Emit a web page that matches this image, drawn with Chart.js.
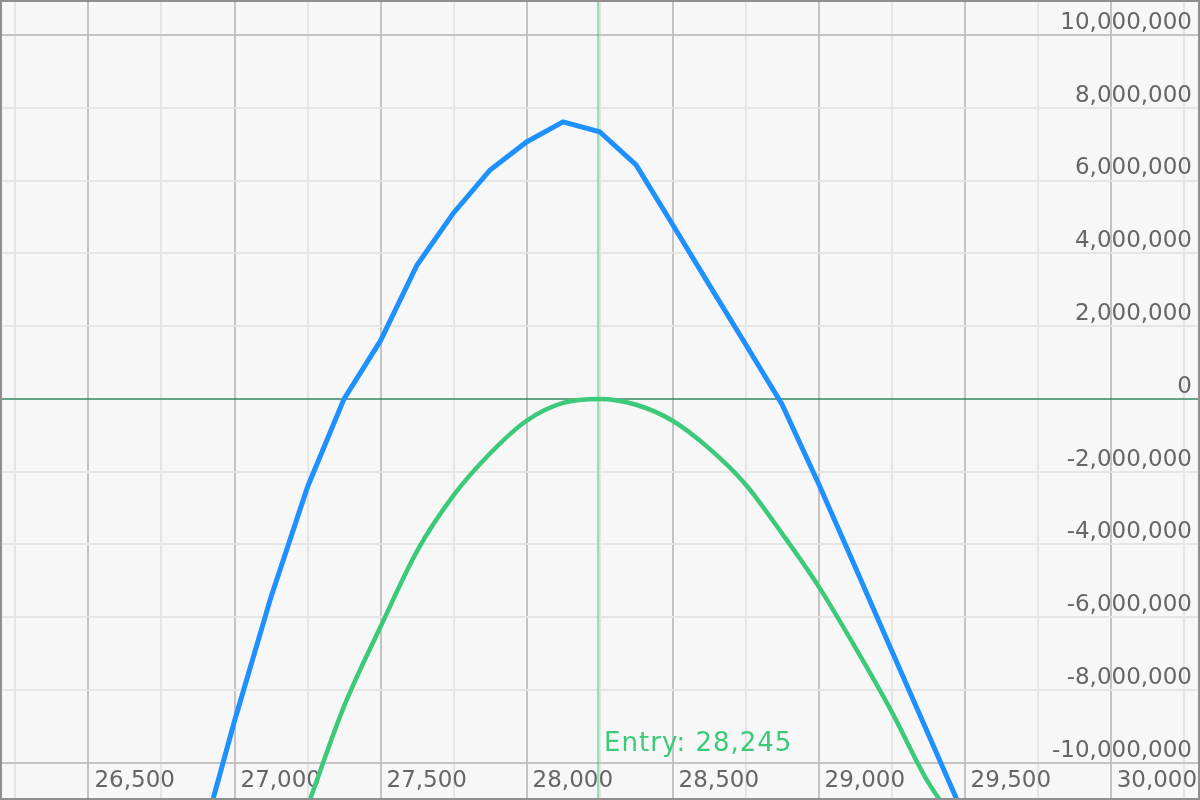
<!DOCTYPE html>
<html>
<head>
<meta charset="utf-8">
<script src="https://cdn.jsdelivr.net/npm/chart.js@4.4.1/dist/chart.umd.min.js"></script>
<style>
    html, body { margin: 0; padding: 0; background: #f7f7f7; }
    #contenedor { width: 1200px; height: 800px; position: relative; }
</style>
</head>
<body>
<div id="contenedor"><canvas id="chart-pnl"></canvas></div>
<script>
// precio subyacente (eje x)
const strikes = [26875, 27000, 27125, 27250, 27375, 27500, 27625, 27750, 27875, 28000, 28125,
    28250, 28375, 28500, 28625, 28750, 28875, 29000, 29125, 29250, 29375, 29500];

// P&L al vencimiento (azul) y P&L actual (verde), en millones
const pnlVencimiento = [-12.5, -8.85, -5.44, -2.42, 0.0, 1.6, 3.68, 5.11, 6.29, 7.06, 7.61,
    7.34, 6.43, 4.79, 3.14, 1.5, -0.15, -2.33, -4.61, -6.91, -9.2, -11.5];
const pnlHoy = [null, null, null, -11.2, -8.45, -6.26, -4.18, -2.65, -1.5, -0.6, -0.11,
    0.0, -0.16, -0.6, -1.36, -2.35, -3.7, -5.15, -6.82, -8.59, -10.53, -11.95];

const precioEntrada = 28245;

// marcas de los ejes
const xTicks = [26250, 26500, 26750, 27000, 27250, 27500, 27750, 28000, 28250, 28500,
    28750, 29000, 29250, 29500, 29750, 30000, 30250];
const xEtiquetas = [26500, 27000, 27500, 28000, 28500, 29000, 29500, 30000];
const yTicks = [-10e6, -8e6, -6e6, -4e6, -2e6, 0, 2e6, 4e6, 6e6, 8e6, 10e6];
const yMayores = [-10e6, 10e6];

// rango visible de los ejes
const xMin = 26197, xMax = 30306;
const yMin = -11.02e6, yMax = 10.96e6;

const AZUL = '#1e90ff';
const VERDE = '#3cc97a';
const FUENTE = 'DejaVu Sans';

document.addEventListener('DOMContentLoaded', renderizarGrafico);

function aPuntos(valores) {
    return strikes.map((x, i) => ({ x: x, y: valores[i] === null ? null : valores[i] * 1e6 }));
}

// quita el espacio que Chart.js reserva para los ejes y sus etiquetas
function sinEspacio(s) {
    if (s.isHorizontal()) s.height = 0; else s.width = 0;
    s.paddingTop = 0;
    s.paddingBottom = 0;
    s.paddingLeft = 0;
    s.paddingRight = 0;
}

// fondo, marco y linea de entrada
const pluginDecoracion = {
    id: 'decoracion',
    beforeDraw(chart) {
        const { ctx } = chart;
        ctx.save();
        ctx.fillStyle = '#f7f7f7';
        ctx.fillRect(0, 0, chart.width, chart.height);
        ctx.restore();
    },
    beforeDatasetsDraw(chart) {
        const { ctx, chartArea: a } = chart;
        const px = chart.scales.x.getPixelForValue(precioEntrada);
        ctx.save();
        ctx.strokeStyle = 'rgba(60, 201, 122, 0.55)';
        ctx.lineWidth = 2;
        ctx.beginPath();
        ctx.moveTo(px, a.top);
        ctx.lineTo(px, a.bottom);
        ctx.stroke();
        ctx.restore();
    },
    afterDraw(chart) {
        const { ctx, chartArea: a } = chart;
        const px = chart.scales.x.getPixelForValue(precioEntrada);
        ctx.save();
        ctx.fillStyle = VERDE;
        ctx.font = `26px "${FUENTE}"`;
        ctx.letterSpacing = '1px';
        ctx.textAlign = 'left';
        ctx.textBaseline = 'middle';
        ctx.fillText('Entry: ' + precioEntrada.toLocaleString('en-US'), px + 6, a.bottom - 56);
        ctx.letterSpacing = '0px';

        ctx.strokeStyle = '#8f8f8f';
        ctx.lineWidth = 2;
        ctx.strokeRect(a.left + 1, a.top + 1, a.right - a.left - 2, a.bottom - a.top - 2);
        ctx.restore();
    }
};

function renderizarGrafico() {
    const ctx = document.getElementById('chart-pnl').getContext('2d');

    new Chart(ctx, {
        type: 'line',
        data: {
            datasets: [
                {
                    label: 'Expiry',
                    data: aPuntos(pnlVencimiento),
                    borderColor: AZUL,
                    borderWidth: 5,
                    pointRadius: 0,
                    tension: 0
                },
                {
                    label: 'Today',
                    data: aPuntos(pnlHoy),
                    borderColor: VERDE,
                    borderWidth: 4.5,
                    pointRadius: 0,
                    cubicInterpolationMode: 'monotone'
                }
            ]
        },
        options: {
            responsive: true,
            maintainAspectRatio: false,
            animation: false,
            layout: { padding: 0 },
            plugins: { legend: { display: false }, tooltip: { enabled: false } },
            scales: {
                x: {
                    type: 'linear',
                    position: 'bottom',
                    min: xMin,
                    max: xMax,
                    afterFit: sinEspacio,
                    afterBuildTicks: (s) => { s.ticks = xTicks.map(v => ({ value: v })); },
                    border: { display: false },
                    grid: {
                        drawTicks: false,
                        lineWidth: 2,
                        color: (c) => (c.tick && xEtiquetas.includes(c.tick.value)) ? '#c3c3c3' : '#e5e5e5'
                    },
                    ticks: {
                        mirror: true,
                        align: 'start',
                        padding: 5,
                        labelOffset: 6,
                        maxRotation: 0,
                        autoSkip: false,
                        color: '#666',
                        font: { family: FUENTE, size: 23 },
                        callback: (v) => xEtiquetas.includes(v) ? v.toLocaleString('en-US') : ''
                    }
                },
                y: {
                    position: 'right',
                    min: yMin,
                    max: yMax,
                    afterFit: sinEspacio,
                    afterBuildTicks: (s) => { s.ticks = yTicks.map(v => ({ value: v })); },
                    border: { display: false },
                    grid: {
                        drawTicks: false,
                        lineWidth: 2,
                        color: (c) => {
                            if (!c.tick) return '#e5e5e5';
                            if (c.tick.value === 0) return 'rgba(45, 125, 90, 0.7)';
                            return yMayores.includes(c.tick.value) ? '#c3c3c3' : '#e5e5e5';
                        }
                    },
                    ticks: {
                        mirror: true,
                        padding: -8,
                        labelOffset: -12,
                        autoSkip: false,
                        color: '#666',
                        font: { family: FUENTE, size: 23 },
                        callback: (v) => v.toLocaleString('en-US')
                    }
                }
            }
        },
        plugins: [pluginDecoracion]
    });
}
</script>
</body>
</html>
